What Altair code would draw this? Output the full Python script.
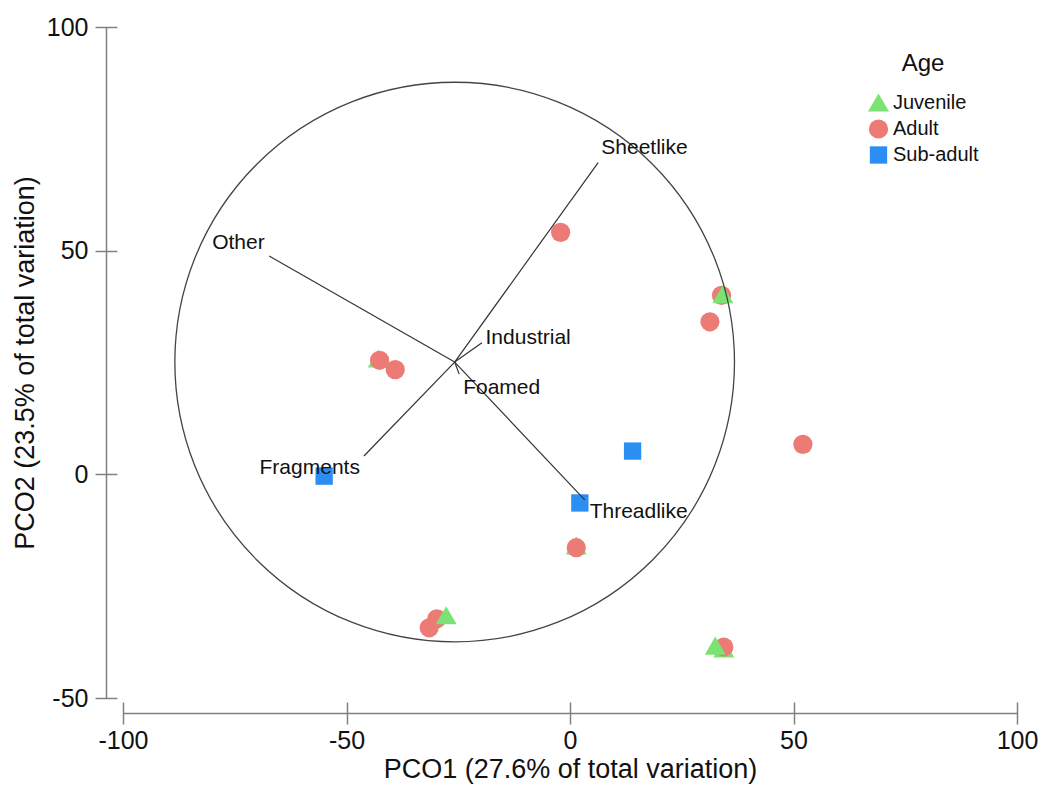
import altair as alt
import pandas as pd

# ---- sample scores (drawn bottom-to-top in this order) ----
pt_age = ["Juvenile", "Adult", "Adult", "Juvenile", "Adult", "Juvenile", "Adult",
          "Juvenile", "Adult", "Juvenile", "Adult", "Adult", "Juvenile",
          "Adult", "Adult", "Adult", "Sub-adult", "Sub-adult", "Sub-adult"]
pt_x = [-42.9, -42.6, -39.1, 1.4, 1.4, 34.4, 34.4,
        32.5, 33.9, 34.2, -29.8, -31.5, -27.7,
        -2.1, 31.3, 52.1, -55.0, 14.0, 2.2]
pt_y = [25.9, 25.5, 23.4, -15.9, -16.4, -38.9, -38.6,
        -38.3, 40.0, 40.3, -32.3, -34.3, -31.5,
        54.1, 34.1, 6.7, -0.4, 5.2, -6.4]

# ---- vectors ----
vec_names = ["Sheetlike", "Other", "Fragments", "Threadlike", "Industrial", "Foamed"]
vec_x_end = [6.3, -67.3, -46.1, 3.3, -19.7, -24.8]
vec_y_end = [69.7, 48.8, 4.1, -5.7, 29.4, 22.4]
vec_origin_x = -25.8
vec_origin_y = 25.1
label_x = [7.0, -68.3, -47.0, 4.4, -18.9, -23.9]
label_y = [72.9, 51.7, 1.4, -8.4, 30.4, 19.4]
label_side = ["left", "right", "right", "left", "left", "left"]

# ---- correlation circle ----
circle_x = [-25.8]
circle_y = [25.1]
circle_radius = 62.6

age_order = ["Juvenile", "Adult", "Sub-adult"]
age_colors = ["#7AE373", "#EC7A75", "#2A8EF2"]
age_shapes = ["triangle-up", "circle", "square"]
age_sizes = [440, 300, 310]

x_ticks = [-100, -50, 0, 50, 100]
y_ticks = [-50, 0, 50, 100]

W, H = 894, 671
FONT = "Liberation Sans"

pts = pd.DataFrame({"x": pt_x, "y": pt_y, "Age": pt_age, "ord": list(range(len(pt_x)))})
vecs = pd.DataFrame({"name": vec_names, "x0": [vec_origin_x] * len(vec_names),
                     "y0": [vec_origin_y] * len(vec_names), "x1": vec_x_end, "y1": vec_y_end,
                     "lx": label_x, "ly": label_y, "side": label_side})
circ = pd.DataFrame({"x": circle_x, "y": circle_y})

xs = alt.Scale(domain=[-100, 100], nice=False, zero=False)
ys = alt.Scale(domain=[-50, 100], nice=False, zero=False)

axis_common = dict(domain=False, tickSize=22, tickColor="#808080", tickWidth=1.5,
                   labelFont=FONT, labelFontSize=25, labelColor="#111111",
                   titleFont=FONT, titleFontSize=27, titleFontWeight="normal",
                   titleColor="#111111", grid=False, labelExpr="'' + datum.value",
                   labelOverlap=False)
x_axis_a = alt.Axis(orient="bottom", values=x_ticks, offset=4, labelPadding=4, labelFlush=False,
                    title="PCO1 (27.6% of total variation)", titlePadding=3, **axis_common)
y_axis_a = alt.Axis(orient="left", values=y_ticks, offset=6, labelPadding=7,
                    title="PCO2 (23.5% of total variation)", titlePadding=7, **axis_common)
x_axis_b = alt.Axis(orient="bottom", offset=15, ticks=False, labels=False, title=None,
                    domain=True, domainColor="#808080", domainWidth=1.5, grid=False)
y_axis_b = alt.Axis(orient="left", offset=17, ticks=False, labels=False, title=None,
                    domain=True, domainColor="#808080", domainWidth=1.5, grid=False)

legend = alt.Legend(title="Age", orient="none", legendX=745, legendY=25,
                    titleFont=FONT, titleFontSize=24, titleFontWeight="normal",
                    titleColor="#111111", titleAnchor="middle", titlePadding=16,
                    labelFont=FONT, labelFontSize=20, labelColor="#111111",
                    symbolSize=250, rowPadding=6, padding=0, labelOffset=4,
                    symbolStrokeWidth=0, symbolOpacity=1)

points = alt.Chart(pts).mark_point(filled=True, opacity=1, strokeWidth=0).encode(
    x=alt.X("x:Q", scale=xs, axis=x_axis_a),
    y=alt.Y("y:Q", scale=ys, axis=y_axis_a),
    color=alt.Color("Age:N", scale=alt.Scale(domain=age_order, range=age_colors), legend=legend),
    shape=alt.Shape("Age:N", scale=alt.Scale(domain=age_order, range=age_shapes), legend=legend),
    size=alt.Size("Age:N", scale=alt.Scale(domain=age_order, range=age_sizes), legend=None),
    order=alt.Order("ord:Q"),
)

px_per_unit = W / 200.0
circle = alt.Chart(circ).mark_point(shape="circle", filled=False, opacity=1,
                                    color="#444444", strokeWidth=1.3,
                                    size=(2 * circle_radius * px_per_unit) ** 2).encode(
    x=alt.X("x:Q", scale=xs, axis=x_axis_b),
    y=alt.Y("y:Q", scale=ys, axis=y_axis_b),
)

rules = alt.Chart(vecs).mark_rule(color="#333333", strokeWidth=1.2).encode(
    x=alt.X("x0:Q", scale=xs, axis=None),
    y=alt.Y("y0:Q", scale=ys, axis=None),
    x2="x1:Q", y2="y1:Q",
)

txt_left = alt.Chart(vecs).transform_filter(alt.datum.side == "left").mark_text(
    align="left", baseline="middle", font=FONT, fontSize=21, color="#111111").encode(
    x=alt.X("lx:Q", scale=xs, axis=None),
    y=alt.Y("ly:Q", scale=ys, axis=None),
    text="name:N",
)
txt_right = alt.Chart(vecs).transform_filter(alt.datum.side == "right").mark_text(
    align="right", baseline="middle", font=FONT, fontSize=21, color="#111111").encode(
    x=alt.X("lx:Q", scale=xs, axis=None),
    y=alt.Y("ly:Q", scale=ys, axis=None),
    text="name:N",
)

chart = alt.layer(points, circle, rules, txt_left, txt_right).resolve_axis(
    x="independent", y="independent"
).properties(
    width=W, height=H,
    autosize=alt.AutoSizeParams(type="none"),
    padding={"left": 123, "top": 27, "right": 24, "bottom": 87},
    background="white",
).configure_view(stroke=None)

chart.save("out.html", embed_options={"renderer": "svg", "actions": False})
